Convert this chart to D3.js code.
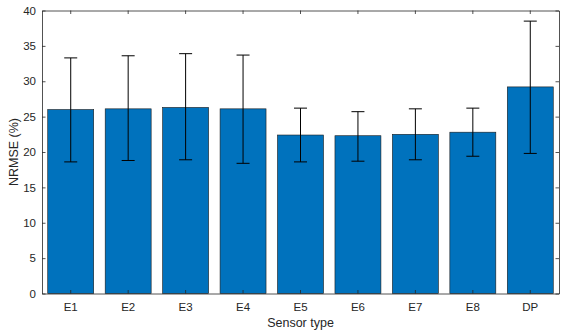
<!DOCTYPE html>
<html>
<head>
<meta charset="utf-8">
<script src="https://cdn.jsdelivr.net/npm/d3@7"></script>
<style>
body { margin: 0; background: #fff; }
text { font-family: "Liberation Sans", Arial, sans-serif; }
</style>
</head>
<body>
<script>
var width = 561;
var height = 333;

var categories = ["E1", "E2", "E3", "E4", "E5", "E6", "E7", "E8", "DP"];
var means = [26.0, 26.1, 26.3, 26.1, 22.4, 22.3, 22.5, 22.8, 29.2];
var errLow = [18.6, 18.8, 18.9, 18.4, 18.6, 18.7, 18.9, 19.4, 19.8];
var errHigh = [33.3, 33.6, 33.9, 33.7, 26.2, 25.7, 26.1, 26.2, 38.5];
var yTicks = [0, 5, 10, 15, 20, 25, 30, 35, 40];

var margin = {top: 10.5, right: 2, bottom: 39.5, left: 42};

var svg = d3.select("body").append("svg")
    .attr("width", width)
    .attr("height", height);

var x = d3.scaleBand()
    .domain(categories)
    .range([margin.left, width - margin.right])
    .paddingInner(0.2)
    .paddingOuter(0.1);

var y = d3.scaleLinear()
    .domain([0, 40])
    .range([height - margin.bottom, margin.top]);

var data = categories.map(function(c, i) {
    return {cat: c, v: means[i], lo: errLow[i], hi: errHigh[i]};
});

// bars
svg.selectAll("rect.bar")
    .data(data)
    .enter().append("rect")
        .attr("class", "bar")
        .attr("x", function(d) { return x(d.cat); })
        .attr("y", function(d) { return y(d.v); })
        .attr("width", x.bandwidth())
        .attr("height", function(d) { return y(0) - y(d.v); })
        .attr("fill", "#0072BD")
        .attr("stroke", "#1a1a1a")
        .attr("stroke-width", 0.6);

// error bars
var cap = 6.5;
var err = svg.selectAll("g.err")
    .data(data)
    .enter().append("g")
        .attr("class", "err")
        .attr("stroke", "#000")
        .attr("stroke-width", 1);

err.append("line")
    .attr("x1", function(d) { return x(d.cat) + x.bandwidth() / 2; })
    .attr("x2", function(d) { return x(d.cat) + x.bandwidth() / 2; })
    .attr("y1", function(d) { return y(d.lo); })
    .attr("y2", function(d) { return y(d.hi); });

err.append("line")
    .attr("x1", function(d) { return x(d.cat) + x.bandwidth() / 2 - cap; })
    .attr("x2", function(d) { return x(d.cat) + x.bandwidth() / 2 + cap; })
    .attr("y1", function(d) { return y(d.hi); })
    .attr("y2", function(d) { return y(d.hi); });

err.append("line")
    .attr("x1", function(d) { return x(d.cat) + x.bandwidth() / 2 - cap; })
    .attr("x2", function(d) { return x(d.cat) + x.bandwidth() / 2 + cap; })
    .attr("y1", function(d) { return y(d.lo); })
    .attr("y2", function(d) { return y(d.lo); });

// axes (MATLAB box style, ticks inside)
var axisColor = "#262626";
var x0 = margin.left, x1 = width - margin.right;
var y0 = height - margin.bottom, y1 = margin.top;

var xAxis = svg.append("g")
    .attr("transform", "translate(0," + y0 + ")")
    .call(d3.axisBottom(x).tickSize(-3.5).tickPadding(9).tickSizeOuter(0));
var xTop = svg.append("g")
    .attr("transform", "translate(0," + y1 + ")")
    .call(d3.axisTop(x).tickSize(-3.5).tickFormat("").tickSizeOuter(0));
var yAxis = svg.append("g")
    .attr("transform", "translate(" + x0 + ",0)")
    .call(d3.axisLeft(y).tickValues(yTicks).tickSize(-3.5).tickPadding(6).tickSizeOuter(0));
var yRight = svg.append("g")
    .attr("transform", "translate(" + x1 + ",0)")
    .call(d3.axisRight(y).tickValues(yTicks).tickSize(-3.5).tickFormat("").tickSizeOuter(0));

[xAxis, xTop, yAxis, yRight].forEach(function(g) {
    g.select(".domain").attr("stroke", axisColor).attr("stroke-width", 0.8);
    g.selectAll(".tick line").attr("stroke", axisColor).attr("stroke-width", 0.8);
    g.selectAll(".tick text")
        .attr("fill", "#262626")
        .style("font-size", "11.5px")
        .style("font-family", "'Liberation Sans', Arial, sans-serif");
});

// axis labels
svg.append("text")
    .attr("x", (x0 + x1) / 2)
    .attr("y", 327)
    .attr("text-anchor", "middle")
    .attr("fill", "#262626")
    .style("font-size", "12.5px")
    .text("Sensor type");

svg.append("text")
    .attr("transform", "translate(18," + ((y0 + y1) / 2) + ") rotate(-90)")
    .attr("text-anchor", "middle")
    .attr("fill", "#262626")
    .style("font-size", "12.5px")
    .text("NRMSE (%)");
</script>
</body>
</html>
